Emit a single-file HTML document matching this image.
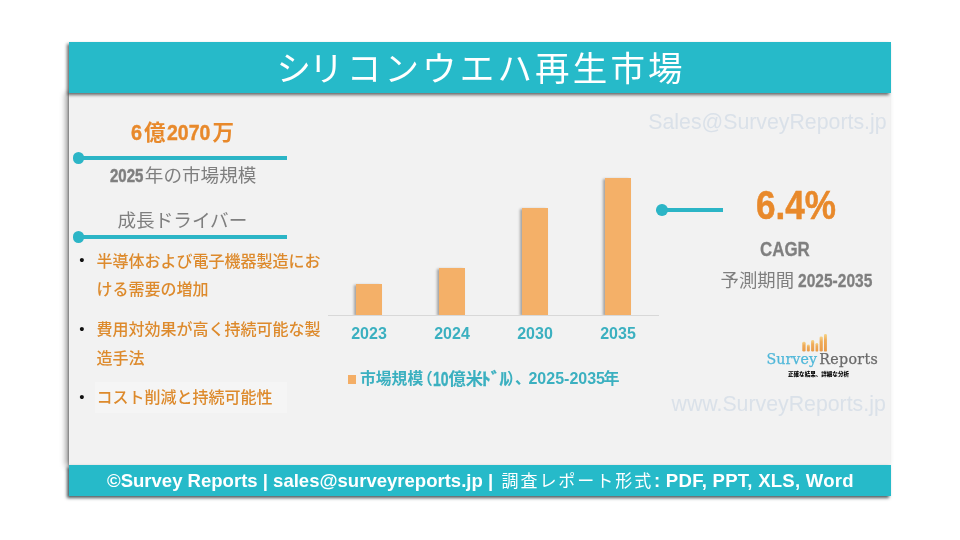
<!DOCTYPE html>
<html lang="ja">
<head>
<meta charset="utf-8">
<title>シリコンウエハ再生市場</title>
<style>
  html, body { margin: 0; padding: 0; }
  body {
    width: 960px; height: 540px; overflow: hidden; background: #ffffff; position: relative;
    font-family: "Liberation Sans", "Noto Sans CJK JP", sans-serif;
  }
  .abs { position: absolute; white-space: nowrap; }
  #panel { position: absolute; left: 69px; top: 93px; width: 821px; height: 373px; background: #f2f2f2; box-shadow: -3px 0 6px rgba(0,0,0,0.42), -1px 0 1.5px rgba(0,0,0,0.25); }
  #header { position: absolute; left: 69px; top: 42px; width: 822px; height: 51px; background: #26bac9; box-shadow: -2px 2px 3px rgba(30,30,30,0.65); }
  #footer { position: absolute; left: 69px; top: 465px; width: 822px; height: 31px; background: #26bac9; box-shadow: -2px 2px 3px rgba(20,35,40,0.75); }
  #title { left: 276.5px; top: 44px; height: 51px; line-height: 51px; color: #fff; font-size: 34.5px; letter-spacing: 3.16px; font-weight: 400; }
  #title::first-letter { letter-spacing: -1.9px; }
  #foottext { left: 69px; top: 465px; width: 784px; padding-left: 38px; height: 31px; line-height: 31px; color: #fff; font-size: 18.55px; font-weight: 700; overflow: visible; }
  #foottext > span { display: inline-block; vertical-align: top; height: 31px; line-height: 31px; white-space: pre; position: relative; }
  .tline { position: absolute; height: 4px; background: #2cb5c6; }
  .tdot { position: absolute; width: 11.6px; height: 11.6px; border-radius: 50%; background: #2cb5c6; }
  .cx { display: inline-block; white-space: nowrap; font-weight: 700; vertical-align: baseline; }
  .cx > span { display: inline-block; transform-origin: 0 50%; }
  .orange { color: #e8892b; }
  .gray { color: #7f7f7f; }
  .bul { position: absolute; left: 96.6px; width: 230px; color: #dd8a2c; font-size: 16px; line-height: 28px; font-weight: 500; white-space: normal; }
  .bdot { position: absolute; left: 79px; width: 6px; text-align: center; color: #111; font-size: 15px; line-height: 29px; }
  .bar { position: absolute; background: #f4b068; box-shadow: -2px 1px 2.5px rgba(0,0,0,0.33); clip-path: inset(-6px -6px 0 -6px); }
  .yl { position: absolute; width: 60px; text-align: center; color: #3bb0c0; font-size: 16px; font-weight: 700; line-height: 18px; top: 324.5px; }
  #leg > span { display: inline-block; vertical-align: top; height: 22px; line-height: 22px; white-space: pre; }
  .wm { color: #dae1e9; font-size: 21.3px; line-height: 26px; }
</style>
</head>
<body>
  <div id="panel"></div>
  <div id="header"></div>
  <div id="footer"></div>
  <div id="title" class="abs">シリコンウエハ再生市場</div>
  <div id="foottext" class="abs"><span id="f1" style="width:394.5px;">©Survey Reports | sales@surveyreports.jp | </span><span id="f2" style="width:152.5px; top:0.5px; font-weight:400; font-size:17px; letter-spacing:1.95px;">調査レポート形式 </span><span id="f3" style="letter-spacing:0.27px;">: PDF, PPT, XLS, Word</span></div>

  <!-- watermarks -->
  <div class="abs wm" id="wm1" style="left:648.3px; top:108.5px;">Sales@SurveyReports.jp</div>
  <div class="abs wm" id="wm2" style="left:671.5px; top:390.5px;">www.SurveyReports.jp</div>

  <!-- left block -->
  <div class="abs orange" id="v1" style="left:131px; top:118.5px; font-size:21.5px; line-height:28px; font-weight:700;"><span class="cx" style="width:12.9px; -webkit-text-stroke:0.4px #e8892b"><span style="transform:scaleX(0.92)">6</span></span>億<span class="cx" style="width:46px; margin-left:1.2px; -webkit-text-stroke:0.4px #e8892b"><span style="transform:scaleX(0.905)">2070</span></span>万</div>
  <div class="tline" style="left:79px; top:156px; width:208px;"></div>
  <div class="tdot" style="left:72.9px; top:152.2px;"></div>
  <div class="abs gray" id="v2" style="left:109.5px; top:162px; font-size:18.6px; line-height:28px;"><span class="cx" style="width:35.3px; font-size:18.8px; -webkit-text-stroke:0.5px #7f7f7f"><span style="transform:scaleX(0.8)">2025</span></span>年の市場規模</div>
  <div class="abs gray" id="v3" style="left:117.5px; top:207px; font-size:18.6px; line-height:28px;">成長ドライバー</div>
  <div class="tline" style="left:79px; top:235px; width:208px;"></div>
  <div class="tdot" style="left:72.9px; top:231.2px;"></div>

  <div class="bdot" style="top:245.3px;">•</div>
  <div class="bul" id="b1" style="top:247.5px;">半導体および電子機器製造における需要の増加</div>
  <div class="bdot" style="top:313.8px;">•</div>
  <div class="bul" id="b2" style="top:316px; line-height:28.8px;">費用対効果が高く持続可能な製造手法</div>
  <div style="position:absolute; left:95px; top:382px; width:192px; height:31px; background:#f5f5f5;"></div>
  <div class="bdot" style="top:382px;">•</div>
  <div class="bul" id="b3" style="top:384px;">コスト削減と持続可能性</div>

  <!-- chart -->
  <div class="bar" style="left:356px; top:284px; width:26px; height:31px;"></div>
  <div class="bar" style="left:439px; top:268px; width:26px; height:47px;"></div>
  <div class="bar" style="left:522px; top:208px; width:26px; height:107px;"></div>
  <div class="bar" style="left:605px; top:178px; width:26px; height:137px;"></div>
  <div style="position:absolute; left:328px; top:315px; width:331px; height:1px; background:#d8d8d8;"></div>
  <div class="yl" style="left:339px;">2023</div>
  <div class="yl" style="left:422px;">2024</div>
  <div class="yl" style="left:505px;">2030</div>
  <div class="yl" style="left:588px;">2035</div>
  <div style="position:absolute; left:347.8px; top:375px; width:8.2px; height:8.8px; background:#f4ae66;"></div>
  <div class="abs" id="leg" style="left:360px; top:368px; width:290px; height:22px; font-size:15.8px; line-height:22px; color:#3bb0c0; font-weight:700;"><span style="width:57px">市場規模</span><span style="width:15.8px">（</span><span style="width:15.7px; font-size:19.5px; -webkit-text-stroke:0.4px #3bb0c0"><span style="display:inline-block; transform:scaleX(0.72); transform-origin:0 50%">10</span></span><span style="width:32.3px; font-size:17.3px">億米</span><span style="width:26.2px; font-size:17.5px; letter-spacing:-1px; transform:scaleX(1.12); transform-origin:0 50%; -webkit-text-stroke:0.3px #3bb0c0">ﾄﾞﾙ</span><span style="width:8px">）</span><span style="width:13.5px">、</span><span style="width:75px; font-size:16px">2025-2035</span><span style="font-size:16px">年</span></div>

  <!-- right block -->
  <div class="tline" style="left:662px; top:208px; width:61px;"></div>
  <div class="tdot" style="left:656px; top:204.3px; width:11.7px; height:11.7px;"></div>
  <div class="abs orange" id="r1" style="left:755.5px; top:180px; font-size:40.8px; line-height:50px; font-weight:700;"><span class="cx" style="width:82px; -webkit-text-stroke:0.5px #e8892b"><span style="transform:scaleX(0.86)">6.4%</span></span></div>
  <div class="abs gray" id="r2" style="left:759.8px; top:234px; font-size:20.9px; line-height:30px; font-weight:700;"><span class="cx" style="width:52px; -webkit-text-stroke:0.3px #7f7f7f"><span style="transform:scaleX(0.81)">CAGR</span></span></div>
  <div class="abs gray" id="r3" style="left:720.5px; top:266.5px; font-size:18.4px; line-height:28px;">予測期間 <span class="cx" style="width:76px; margin-left:-1.1px; font-size:18.3px; -webkit-text-stroke:0.3px #7f7f7f"><span style="transform:scaleX(0.85)">2025-2035</span></span></div>

  <!-- logo -->
  <svg class="abs" style="left:800px; top:330px;" width="30" height="24" viewBox="0 0 30 24">
    <defs><linearGradient id="lg" x1="0" y1="0" x2="0" y2="1"><stop offset="0" stop-color="#f6d488"/><stop offset="0.35" stop-color="#efab58"/><stop offset="1" stop-color="#e99a48"/></linearGradient></defs>
    <g fill="url(#lg)">
      <rect x="2.3" y="11.8" width="3.3" height="9.8" rx="1.4"/>
      <rect x="6.9" y="14.6" width="2.9" height="7" rx="1.3"/>
      <rect x="11.1" y="10" width="3.1" height="11.6" rx="1.4"/>
      <rect x="15.5" y="13" width="2.7" height="8.6" rx="1.2"/>
      <rect x="19.6" y="6.4" width="3.2" height="15.2" rx="1.4"/>
      <rect x="24" y="4" width="2.9" height="17.6" rx="1.2"/>
    </g>
  </svg>
  <div class="abs" id="logo" style="left:766.4px; top:349.2px; font-family:'DejaVu Serif','Liberation Serif',serif; font-size:14.2px; line-height:20px; word-spacing:-2.4px; -webkit-text-stroke:0.25px;"><span style="color:#4fb7d9; letter-spacing:0.1px">Survey</span> <span style="color:#6a6a6a; letter-spacing:0.35px">Reports</span></div>
  <div class="abs" id="tag" style="left:788px; top:370px; font-size:5.55px; line-height:8px; color:#000; font-weight:900;">正確な結果、詳細な分析</div>
</body>
</html>
